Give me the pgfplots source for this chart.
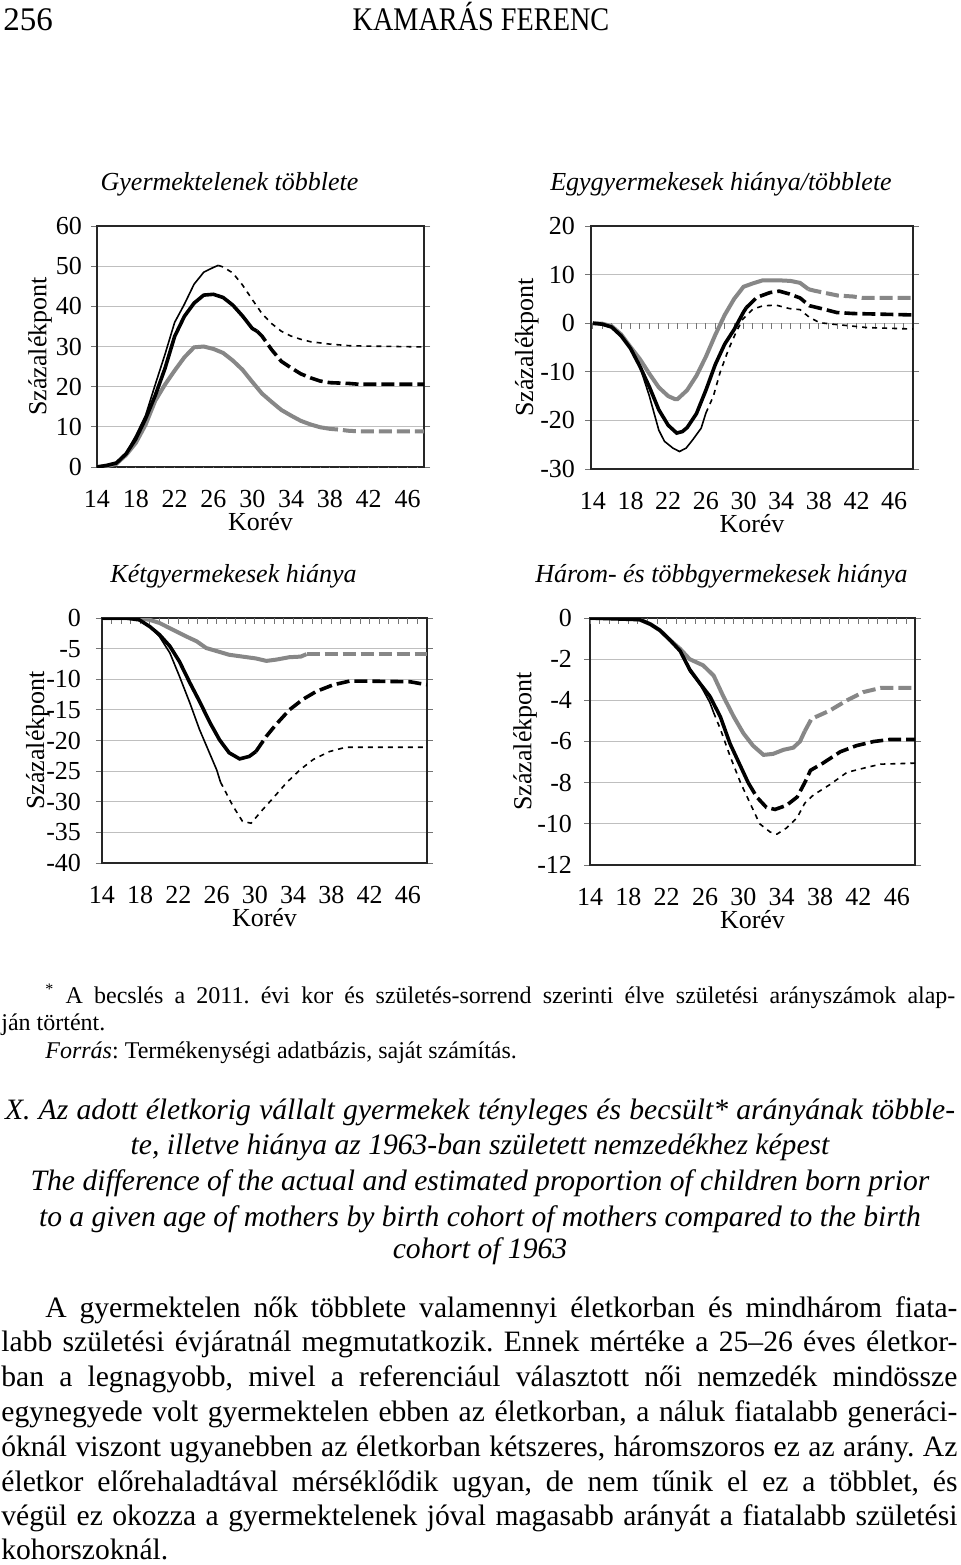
\documentclass[border=0pt]{standalone}
\usepackage{fontspec}
\setmainfont{Liberation Serif}
\usepackage{graphicx}
\usepackage{pgfplots}
\pgfplotsset{compat=1.18}
\frenchspacing
\definecolor{sgray}{gray}{0.53}
\newcommand{\cf}{\fontsize{13}{15}\selectfont}
\newcommand{\bodyf}{\fontsize{14.8}{17}\selectfont}
\newcommand{\capf}{\fontsize{14.8}{17}\selectfont\itshape}
\newcommand{\fnf}{\fontsize{12}{13}\selectfont}
\newcommand{\headf}{\fontsize{16.5}{19}\selectfont}
\pgfplotsset{
  kchart/.style={
    scale only axis,
    axis line style={black!85, line width=1.1pt},
    ymajorgrids, grid style={black!25, line width=0.5pt},
    tick align=outside, major tick length=3pt,
    ytick style={black!55, line width=0.5pt},
    xtick style={draw=none},
    xtick={14,18,...,46},
    xticklabels={14,18,22,26,30,34,38,42,46},
    xticklabel style={anchor=base, yshift=-17pt, font=\cf},
    yticklabel style={font=\cf},
    xlabel={Korév},
    xlabel style={at={(axis description cs:0.5,0)}, anchor=base, yshift=-31.5pt, font=\cf},
    ylabel={Százalékpont},
    ylabel style={anchor=center, font=\cf},
    title style={at={(axis description cs:0.5,1)}, anchor=base, yshift=12pt, xshift=-15.5pt, font=\cf\itshape},
  },
  thg/.style={sgray, line width=2pt},
  thb/.style={black, line width=1.8pt},
  thn/.style={black, line width=0.8pt},
  dsh/.style={dash pattern=on 6.5pt off 2.5pt},
  dot/.style={dash pattern=on 2.5pt off 2.5pt},
}
% small ticks along the zero line
\newcommand{\zticks}{\pgfplotsinvokeforeach{14,...,47}{\draw[black!55, line width=0.5pt] (axis cs:##1,0) -- ++(0pt,-3pt);}}

\begin{document}
\begin{tikzpicture}

\begin{scope}[x=0.5pt, y=-0.5pt]
\fill[white] (0,0) rectangle (960,1565);
\path[use as bounding box] (0,0) rectangle (960,1565);
\end{scope}

% --- Gyermektelenek többlete
\begin{axis}[kchart, at={(48.5pt,-233.5pt)}, anchor=south west,
  width=163.5pt, height=120.5pt, xmin=14, xmax=47.7, ymin=0, ymax=60,
  ytick={0,10,...,60}, yticklabels={0,10,20,30,40,50,60},
  yticklabel style={xshift=-1pt},
  title={Gyermektelenek többlete},
  ylabel style={at={(axis description cs:-0.174,0.5)}}]
\zticks
\addplot[thg] coordinates {(14,0)(15,0.2)(16,0.8)(17,3)(18,6)(19,10.5)(20,16.5)(21,20.5)(22,24)(23,27.3)(24,29.8)(25,30)(26,29.4)(27,28.4)(28,26.5)(29,24.2)(30,21.2)(31,18.3)(32,16.2)(33,14.2)(34,12.8)(35,11.5)(36,10.6)(37,9.9)(37.5,9.7)};
\addplot[thg,dsh] coordinates {(37.5,9.7)(38,9.5)(39,9.3)(40,9.0)(41,8.9)(47.7,8.9)};
\addplot[thb] coordinates {(14,0)(15,0.4)(16,1.0)(17,3.3)(18,7)(19,12)(20,17.8)(21,24.5)(22,32.5)(23,37.5)(24,40.8)(25,42.8)(26,43)(27,42.2)(28,40.3)(29,37.6)(30,34.5)(30.5,33.8)};
\addplot[thb,dsh] coordinates {(30.5,33.8)(31,32.6)(32,29.2)(33,26.3)(34,24.7)(35,23.2)(36,22.2)(37,21.4)(38,21)(39,20.9)(40,20.8)(41,20.6)(47.7,20.6)};
\addplot[thn] coordinates {(14,0)(15,0.3)(16,0.9)(17,3.5)(18,7.8)(19,12.8)(20,20.5)(21,28)(22,36)(23,40.5)(24,45.5)(25,48.5)(26,49.7)(26.5,50.2)};
\addplot[thn,dot] coordinates {(26.5,50.2)(27,49.8)(28,48.3)(29,45.3)(30,41.7)(31,38.2)(32,35.7)(33,33.8)(34,32.6)(35,31.8)(36,31.2)(37,30.9)(38,30.6)(39,30.4)(40,30.2)(42,30.1)(47.7,29.9)};
\end{axis}

% --- Egygyermekesek hiánya/többlete
\begin{axis}[kchart, at={(295.5pt,-234.5pt)}, anchor=south west,
  width=161pt, height=121.5pt, xmin=13.8, xmax=48, ymin=-30, ymax=20,
  ytick={-30,-20,...,20}, yticklabels={-30,-20,-10,0,10,20},
  yticklabel style={xshift=-1.5pt},
  title={Egygyermekesek hiánya/többlete},
  ylabel style={at={(axis description cs:-0.199,0.5)}}]
\zticks
\addplot[thg] coordinates {(14,0)(15,-0.1)(16,-0.6)(17,-2.3)(18,-4.9)(19,-7.4)(20,-10.4)(21,-13.2)(22,-15)(22.7,-15.6)(23,-15.6)(24,-13.8)(25,-10.8)(26,-6.9)(27,-2.4)(28,1.7)(29,5)(30,7.5)(31,8.2)(32,8.8)(33,8.8)(34,8.8)(35,8.7)(36,8.3)(36.9,7.0)};
\addplot[thg,dsh] coordinates {(36.9,7.0)(37.5,6.7)(38.5,6.3)(40,5.7)(41.6,5.5)(42.7,5.2)(48,5.2)};
\addplot[thb] coordinates {(14,0)(15,-0.2)(16,-0.8)(17,-2.6)(18,-5.2)(19,-8.9)(20,-13.1)(21,-17.8)(22,-21)(22.9,-22.6)(23.5,-22.3)(24,-21.5)(25,-18.6)(26,-13.8)(27,-8.5)(28,-4.3)(29,-1.3)(30,2.3)(30.3,3.2)};
\addplot[thb,dsh] coordinates {(30.3,3.2)(31.4,5.3)(32.8,6.3)(33.8,6.6)(34.9,6.0)(36,5.2)(37,3.6)(38.5,2.9)(39.9,2.2)(41.6,2.0)(48,1.7)};
\addplot[thn] coordinates {(14,0)(15,-0.2)(16,-0.8)(17,-2.6)(18,-5.2)(19,-9)(20,-15)(21,-22)(21.6,-24.3)(22.5,-25.7)(23.2,-26.4)(23.9,-25.7)(24.6,-24)(25.5,-21.6)(26,-18.5)};
\addplot[thn,dot] coordinates {(26,-18.5)(26.8,-15)(27.5,-10.2)(28.4,-5.4)(29.2,-1.9)(29.9,0.8)(31,2.9)(32.1,3.6)(33.5,3.7)(34.9,3.0)(36,2.8)(37,1.2)(38.1,0.1)(39.5,-0.2)(41.6,-0.6)(43.1,-0.9)(48,-1.2)};
\end{axis}

% --- Kétgyermekesek hiánya
\begin{axis}[kchart, at={(51pt,-431.5pt)}, anchor=south west,
  width=162.5pt, height=122.5pt, xmin=14, xmax=48, ymin=-40, ymax=0,
  ytick={-40,-35,...,0}, yticklabels={-40,-35,-30,-25,-20,-15,-10,-5,0},
  yticklabel style={xshift=-4pt},
  title={Kétgyermekesek hiánya},
  ylabel style={at={(axis description cs:-0.197,0.5)}}]
\zticks
\addplot[thg] coordinates {(14,0)(17.6,0)(19,-0.3)(20,-0.8)(21.4,-1.9)(22.8,-3)(23.9,-3.8)(24.9,-4.9)(26,-5.4)(27.3,-6)(28.7,-6.3)(30.1,-6.6)(31.2,-7)(32.2,-6.8)(33.6,-6.4)(34.8,-6.3)(35.4,-5.9)};
\addplot[thg,dsh] coordinates {(35.4,-5.9)(48,-5.9)};
\addplot[thb] coordinates {(14,0)(16.5,0)(17.9,-0.3)(19,-1.4)(20,-2.7)(21.1,-4.6)(22.1,-7.1)(23.2,-10.6)(24.2,-13.6)(25.3,-17.1)(26.3,-19.9)(27.3,-22)(28.4,-23)(29.4,-22.6)(30.1,-21.8)};
\addplot[thb,dsh] coordinates {(30.1,-21.8)(31.2,-19.3)(32.2,-17.4)(33.6,-15)(35,-13.3)(36.4,-12)(38.2,-10.9)(39.9,-10.3)(41.6,-10.3)(46.2,-10.4)(48,-10.9)};
\addplot[thn] coordinates {(14,0)(16.5,0)(17.9,-0.3)(19,-1.4)(20,-3)(21.1,-5.7)(22.1,-9.5)(23.2,-13.9)(24.2,-18.2)(25.1,-21.5)(26,-24.8)(26.4,-26.8)};
\addplot[thn,dot] coordinates {(26.4,-26.8)(27.7,-30.7)(28.7,-33.2)(29.6,-33.5)(30.8,-31.3)(31.9,-29.4)(33.3,-26.9)(34.7,-24.8)(36.1,-23.1)(37.8,-21.8)(39.5,-21.1)(48,-21.1)};
\end{axis}

% --- Három- és többgyermekesek hiánya
\begin{axis}[kchart, at={(295pt,-432.5pt)}, anchor=south west,
  width=162.5pt, height=123.5pt, xmin=14, xmax=47.9, ymin=-12, ymax=0,
  ytick={-12,-10,...,0}, yticklabels={-12,-10,-8,-6,-4,-2,0},
  yticklabel style={xshift=-2.5pt},
  title={Három- és többgyermekesek hiánya},
  ylabel style={at={(axis description cs:-0.2,0.5)}}]
\zticks
\addplot[thg] coordinates {(14,0)(17.8,0)(19.2,-0.08)(20.3,-0.3)(21.3,-0.6)(22.3,-1.05)(23.4,-1.5)(24.4,-2.0)(25.8,-2.3)(26.9,-2.8)(27.9,-3.8)(29,-4.8)(30,-5.6)(31,-6.2)(32.1,-6.65)(33.1,-6.6)(34.2,-6.4)(35.2,-6.3)(35.9,-6.0)(36.4,-5.5)};
\addplot[thg,dsh] coordinates {(36.4,-5.5)(37.1,-4.9)(39,-4.5)(40.8,-4.0)(42.5,-3.6)(44.3,-3.4)(48,-3.4)};
\addplot[thb] coordinates {(14,0)(19.2,-0.08)(20.3,-0.3)(21.3,-0.6)(22.3,-1.05)(23.4,-1.6)(24.4,-2.5)(25.5,-3.2)(26.5,-3.8)(27.6,-4.8)(28.6,-6.1)(29.7,-7.2)(30.5,-8.0)};
\addplot[thb,dsh] coordinates {(30.5,-8.0)(31.4,-8.7)(32.4,-9.2)(33.3,-9.3)(34.5,-9.1)(35.6,-8.7)(36.4,-8.0)(37,-7.4)(38.3,-7.05)(40.1,-6.5)(41.8,-6.2)(43.6,-6.0)(45.3,-5.9)(48,-5.9)};
\addplot[thn] coordinates {(14,0)(19.2,-0.08)(20.3,-0.3)(21.3,-0.6)(22.3,-1.05)(23.4,-1.6)(24.4,-2.6)(25.5,-3.25)(26.5,-4.1)(26.9,-4.6)};
\addplot[thn,dot] coordinates {(26.9,-4.6)(27.6,-5.4)(28.6,-6.7)(29.7,-8.0)(30.7,-9.0)(31.7,-10.0)(32.8,-10.4)(33.5,-10.5)(34.5,-10.2)(35.6,-9.7)(36.4,-9.0)(37.3,-8.6)(39,-8.1)(40.8,-7.5)(42.5,-7.3)(44.3,-7.1)(48,-7.05)};
\end{axis}

\begin{scope}[x=0.5pt, y=-0.5pt, every node/.style={inner sep=0pt}]
% page header
\node[anchor=base west, font=\headf] at (3,30) {256};
\node[anchor=base, font=\headf] at (481,30) {\scalebox{0.856}[1]{KAMARÁS FERENC}};
% footnote and source
\node[anchor=base west, font=\fnf] at (45,1003) {\makebox[455pt][s]{\textsuperscript{*} A becslés a 2011. évi kor és születés-sorrend szerinti élve születési arányszámok alap-}};
\node[anchor=base west, font=\fnf] at (1,1030) {ján történt.};
\node[anchor=base west, font=\fnf] at (45,1058) {\textit{Forrás}: Termékenységi adatbázis, saját számítás.};
% caption
\node[anchor=base, font=\capf] at (480,1119) {\makebox[475pt][s]{X. Az adott életkorig vállalt gyermekek tényleges és becsült* arányának többle-}};
\node[anchor=base, font=\capf] at (480,1154) {te, illetve hiánya az 1963-ban született nemzedékhez képest};
\node[anchor=base, font=\capf] at (480,1190) {The difference of the actual and estimated proportion of children born prior};
\node[anchor=base, font=\capf] at (480,1226) {to a given age of mothers by birth cohort of mothers compared to the birth};
\node[anchor=base, font=\capf] at (480,1258) {cohort of 1963};
% body text
\node[anchor=base west, font=\bodyf] at (45,1317) {\makebox[456pt][s]{A gyermektelen nők többlete valamennyi életkorban és mindhárom fiata-}};
\node[anchor=base west, font=\bodyf] at (1,1351) {\makebox[478pt][s]{labb születési évjáratnál megmutatkozik. Ennek mértéke a 25–26 éves életkor-}};
\node[anchor=base west, font=\bodyf] at (1,1386) {\makebox[478pt][s]{ban a legnagyobb, mivel a referenciául választott női nemzedék mindössze}};
\node[anchor=base west, font=\bodyf] at (1,1421) {\makebox[478pt][s]{egynegyede volt gyermektelen ebben az életkorban, a náluk fiatalabb generáci-}};
\node[anchor=base west, font=\bodyf] at (1,1456) {\makebox[478pt][s]{óknál viszont ugyanebben az életkorban kétszeres, háromszoros ez az arány. Az}};
\node[anchor=base west, font=\bodyf] at (1,1491) {\makebox[478pt][s]{életkor előrehaladtával mérséklődik ugyan, de nem tűnik el ez a többlet, és}};
\node[anchor=base west, font=\bodyf] at (1,1525) {\makebox[478pt][s]{végül ez okozza a gyermektelenek jóval magasabb arányát a fiatalabb születési}};
\node[anchor=base west, font=\bodyf] at (1,1559) {kohorszoknál.};
\end{scope}

\end{tikzpicture}
\end{document}
